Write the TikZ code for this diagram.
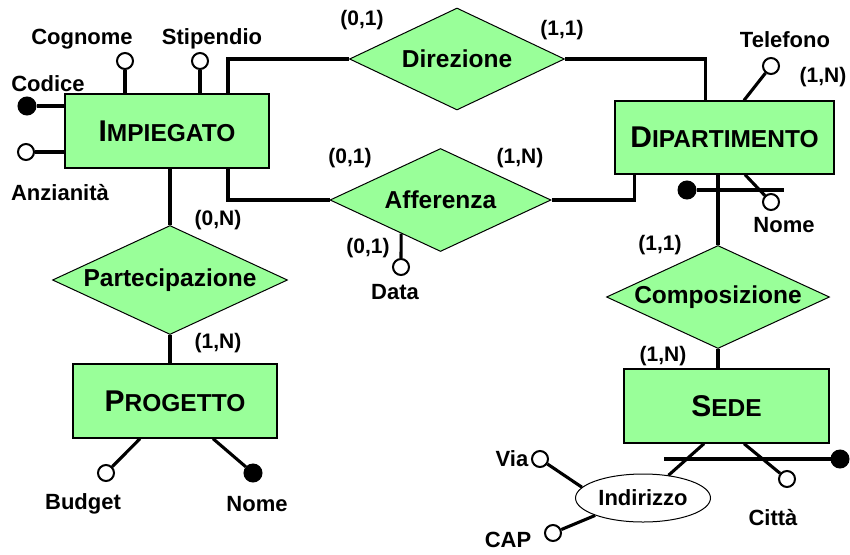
\documentclass[tikz,border=0pt]{standalone}
\usepackage{fontspec}
\setmainfont{Liberation Sans}
\usetikzlibrary{shapes.geometric,calc}
\definecolor{ergreen}{RGB}{153,255,153}
\newcommand\entname[2]{{\fontsize{30}{30}\selectfont #1}{\fontsize{24.5}{30}\selectfont #2}}
\begin{document}
\begin{tikzpicture}[x=1pt,y=-1pt,
  entity/.style={draw, fill=ergreen, line width=1.3pt, inner sep=0pt, font=\bfseries},
  relation/.style={draw, fill=ergreen, line width=1pt, diamond, aspect=2.2, inner xsep=-25pt, inner ysep=0pt, font=\fontsize{24.5}{26}\selectfont\bfseries},
  conn/.style={line width=3.1pt},
  attr/.style={circle, draw, fill=white, line width=2pt, minimum size=16pt, inner sep=0pt},
  keyattr/.style={circle, draw, fill=black, line width=1pt, minimum size=18pt, inner sep=0pt},
  lbl/.style={font=\fontsize{22}{24}\selectfont\bfseries, inner sep=0pt},
  card/.style={font=\fontsize{21}{23}\selectfont\bfseries, inner sep=0pt}]
\useasboundingbox (0,0) rectangle (850,554);

% entities
\node[entity, minimum width=204pt, minimum height=74pt] (imp) at (167,131) {\entname{I}{MPIEGATO}};
\node[entity, minimum width=219pt, minimum height=73pt] (dip) at (724.5,137.5) {\entname{D}{IPARTIMENTO}};
\node[entity, minimum width=204pt, minimum height=74pt] (prog) at (175,401) {\entname{P}{ROGETTO}};
\node[entity, minimum width=205pt, minimum height=74pt] (sede) at (726.5,406) {\entname{S}{EDE}};

% relationships
\node[relation, minimum width=215pt, minimum height=102pt] (dir) at (457,59) {Direzione};
\node[relation, minimum width=221pt, minimum height=103pt] (aff) at (440.5,200) {Afferenza};
\node[relation, minimum width=235pt, minimum height=109pt] (part) at (170,280) {Partecipazione};
\node[relation, minimum width=223pt, minimum height=103pt] (comp) at (718,297) {Composizione};

% connectors
\draw[conn] ([xshift=61pt]imp.north) |- (dir.west);
\draw[conn] (dir.east) -| ([xshift=-19pt]dip.north);
\draw[conn] ([xshift=61pt]imp.south) |- (aff.west);
\draw[conn] (aff.east) -| ([xshift=-90pt]dip.south);
\draw[conn] (part.north) -- (part.north |- imp.south);
\draw[conn] (part.south) -- (part.south |- prog.north);
\draw[conn] (comp.north) -- (comp.north |- dip.south);
\draw[conn] (comp.south) -- (comp.south |- sede.north);

% IMPIEGATO attributes
\node[attr] (cog) at (125,61) {};
\draw[conn] (cog) -- (cog |- imp.north);
\node[lbl] (cogT) at (82,39) {Cognome};
\node[attr] (stip) at (200,61) {};
\draw[conn] (stip) -- (stip |- imp.north);
\node[lbl] (stipT) at (212,39) {Stipendio};
\node[keyattr] (cod) at (27,106) {};
\draw[conn] (cod) -- (cod -| imp.west);
\node[lbl] (codT) at (48,84) {Codice};
\node[attr] (anz) at (26,152) {};
\draw[conn] (anz) -- (anz -| imp.west);
\node[lbl] (anzT) at (60,193) {Anzianità};

% DIPARTIMENTO attributes
\node[attr] (tel) at (771,66) {};
\draw[conn] ([xshift=19.5pt]dip.north) -- (tel);
\node[lbl] (telT) at (785,40) {Telefono};
\node[card] (telC) at (823,77) {(1,N)};
\node[attr] (nomed) at (771,202) {};
\draw[conn] ([xshift=20.5pt]dip.south) -- (nomed);
\node[lbl] (nomedT) at (784,225) {Nome};
\node[keyattr] (dipkey) at (687,190) {};
\coordinate (dipbar) at (784,190);
\draw[conn] (dipkey) -- (dipbar);

% Afferenza attribute
\node[attr] (data) at (401,267) {};
\draw[conn] (data) -- ($(aff.west)!0.645!(aff.south)$);
\node[lbl] (dataT) at (395,292) {Data};
\node[card] (dataC) at (368,248) {(0,1)};

% PROGETTO attributes
\node[attr] (bud) at (106,473) {};
\draw[conn] ([xshift=-35pt]prog.south) -- (bud);
\node[lbl] (budT) at (83,504) {Budget};
\node[keyattr] (nomep) at (253,473) {};
\draw[conn] ([xshift=38pt]prog.south) -- (nomep);
\node[lbl] (nomepT) at (257,504) {Nome};

% SEDE attributes
\node[draw, ellipse, fill=white, line width=1pt, minimum width=135pt, minimum height=48pt, inner sep=0pt, font=\fontsize{22}{24}\selectfont\bfseries] (ind) at (643,498) {Indirizzo};
\draw[conn] ([xshift=-22.5pt]sede.south) -- (ind);
\node[attr] (citta) at (787,479) {};
\draw[conn] ([xshift=17.5pt]sede.south) -- (citta);
\node[lbl] (cittaT) at (773,518) {Città};
\node[keyattr] (sedekey) at (840,459) {};
\coordinate (sedebar) at (664,459);
\draw[conn] (sedebar) -- (sedekey);
\node[attr] (via) at (540,459) {};
\draw[conn] (via) -- (ind.170);
\node[lbl] (viaT) at (512,459) {Via};
\node[attr] (cap) at (553,533) {};
\draw[conn] (ind.200) -- (cap);
\node[lbl] (capT) at (508,540) {CAP};

% cardinalities
\node[card] (c1) at (362,20) {(0,1)};
\node[card] (c2) at (562,30) {(1,1)};
\node[card] (c3) at (350,158) {(0,1)};
\node[card] (c4) at (520,158) {(1,N)};
\node[card] (c5) at (218,220) {(0,N)};
\node[card] (c6) at (218,343) {(1,N)};
\node[card] (c7) at (660,245) {(1,1)};
\node[card] (c8) at (663,356) {(1,N)};
\end{tikzpicture}
\end{document}
